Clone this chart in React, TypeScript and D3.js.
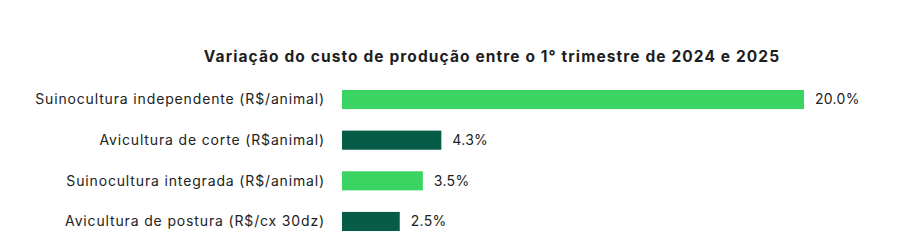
import React from "react";
import * as d3 from "d3";

const categories = [
  "Suinocultura independente (R$/animal)",
  "Avicultura de corte (R$animal)",
  "Suinocultura integrada (R$/animal)",
  "Avicultura de postura (R$/cx 30dz)",
];
const values = [20.0, 4.3, 3.5, 2.5];
const colorKeys = ["light", "dark", "light", "dark"];
const title = "Variação do custo de produção entre o 1° trimestre de 2024 e 2025";

const W = 911;
const H = 245;
const COLORS: Record<string, string> = { light: "#3AD462", dark: "#075C48" };
const FONT = "Inter, 'Open Sans', sans-serif";

export default function App() {
  const x = d3.scaleLinear().domain([0, 20]).range([342, 804]);
  const y = d3.scaleBand().domain(categories).range([79, 242]).paddingInner(0.53).paddingOuter(0.27);
  return (
    <svg width={W} height={H} style={{ position: "absolute", left: 0, top: 0, background: "#fff" }}>
      <text x={492} y={62} textAnchor="middle" fontFamily={FONT} fontWeight={700} fontSize={15.5} letterSpacing={1.1} fill="#1e1e1e">
        {title}
      </text>
      {categories.map((c, i) => {
        const yy = y(c)!;
        const bw = y.bandwidth();
        return (
          <g key={c}>
            <text x={325} y={yy + bw / 2} dy="0.35em" textAnchor="end" fontFamily={FONT} fontSize={14} letterSpacing={0.85} fill="#222">
              {c}
            </text>
            <rect x={x(0)} y={yy} width={x(values[i]) - x(0)} height={bw} fill={COLORS[colorKeys[i]]} />
            <text x={x(values[i]) + 11} y={yy + bw / 2} dy="0.35em" fontFamily={FONT} fontSize={14} letterSpacing={0.3} fill="#222">
              {values[i].toFixed(1) + "%"}
            </text>
          </g>
        );
      })}
    </svg>
  );
}
